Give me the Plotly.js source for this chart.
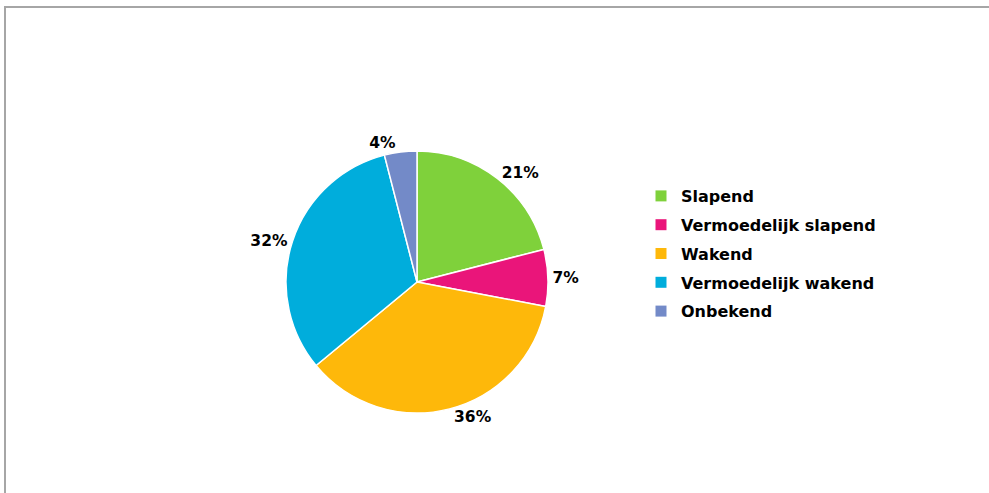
<!DOCTYPE html>
<html>
<head>
<meta charset="utf-8">
<script src="https://cdn.plot.ly/plotly-3.0.1.min.js"></script>
<style>
html,body{margin:0;padding:0;background:#fff;}
#chart{width:989px;height:493px;}
</style>
</head>
<body>
<div id="chart"></div>
<script>
const categories = ["Slapend", "Vermoedelijk slapend", "Wakend", "Vermoedelijk wakend", "Onbekend"];
const percentages = [21, 7, 36, 32, 4];
const sliceColors = ["#7FD13B", "#EA157A", "#FEB80A", "#00ADDC", "#738AC8"];

const W = 989, H = 493;
const cx = 417, cy = 282, r = 131;
const FONT = "'DejaVu Sans', 'Open Sans', sans-serif";

const pieTrace = {
  type: "pie",
  labels: categories,
  values: percentages,
  sort: false,
  direction: "clockwise",
  rotation: 0,
  showlegend: false,
  marker: { colors: sliceColors, line: { color: "#ffffff", width: 1.5 } },
  texttemplate: "%{value}%",
  textposition: "outside",
  outsidetextfont: { family: FONT, size: 15.5, color: "#000000", weight: "bold" },
  domain: { x: [(cx - r) / W, (cx + r) / W], y: [(H - cy - r) / H, (H - cy + r) / H] },
  hoverinfo: "label+percent"
};

// legend entries (one per category, own group so the gap between them can be set)
const legendTraces = categories.map((name, i) => ({
  type: "scatter", mode: "markers",
  x: [null], y: [null],
  name: name, legendgroup: "g" + i, showlegend: true,
  marker: { symbol: "square", size: 11, color: sliceColors[i], line: { width: 0 } },
  hoverinfo: "skip"
}));

const layout = {
  width: W, height: H,
  margin: { l: 0, r: 0, t: 0, b: 0 },
  paper_bgcolor: "#ffffff",
  plot_bgcolor: "rgba(0,0,0,0)",
  xaxis: { visible: false, fixedrange: true },
  yaxis: { visible: false, fixedrange: true },
  showlegend: true,
  legend: {
    x: 641 / W, y: (H - 179) / H, xanchor: "left", yanchor: "top",
    font: { family: FONT, size: 16, color: "#000000", weight: "bold" },
    bgcolor: "rgba(0,0,0,0)",
    traceorder: "grouped",
    tracegroupgap: 5
  },
  shapes: [{
    type: "rect", xref: "paper", yref: "paper",
    x0: 5 / W, x1: 1.05, y0: -0.05, y1: (H - 7) / H,
    line: { color: "#a6a6a6", width: 2 }, fillcolor: "rgba(0,0,0,0)"
  }]
};

Plotly.newPlot("chart", [pieTrace, ...legendTraces], layout, { staticPlot: true, displayModeBar: false });
</script>
</body>
</html>
